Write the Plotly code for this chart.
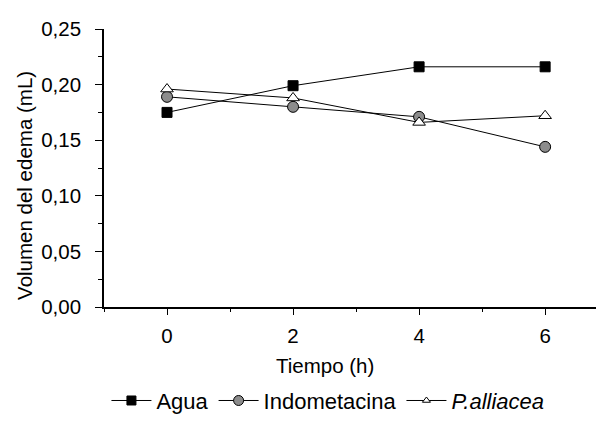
import plotly.graph_objects as go

tiempo = [0, 2, 4, 6]
agua = [0.175, 0.199, 0.216, 0.216]
indometacina = [0.189, 0.180, 0.171, 0.144]
palliacea = [0.196, 0.188, 0.166, 0.172]
series_names = ["Agua", "Indometacina", "<i>P.alliacea</i>"]
x_title = "Tiempo (h)"
y_title = "Volumen del edema (mL)"

FONT = "Liberation Sans, Arial, sans-serif"
FS = 20.5

styles = [
    dict(symbol="square", color="black", size=10, lsize=9),
    dict(symbol="circle", color="#8c8c8c", size=11, lsize=10),
    dict(symbol="triangle-up", color="white", size=11, lsize=7),
]

fig = go.Figure()
for name, ys, st in zip(series_names, [agua, indometacina, palliacea], styles):
    fig.add_trace(go.Scatter(x=tiempo, y=ys, name=name, mode="lines+markers",
                             showlegend=False,
                             line=dict(color="black", width=1),
                             marker=dict(symbol=st["symbol"], size=st["size"], color=st["color"],
                                         line=dict(color="black", width=1))))
# legend entries (smaller symbols as in the reference)
for name, st in zip(series_names, styles):
    fig.add_trace(go.Scatter(x=[None], y=[None], name=name, mode="lines+markers",
                             line=dict(color="black", width=1),
                             marker=dict(symbol=st["symbol"], size=st["lsize"], color=st["color"],
                                         line=dict(color="black", width=1))))

fig.update_layout(
    width=604, height=421,
    margin=dict(l=96, r=7, t=21, b=115),
    paper_bgcolor="white", plot_bgcolor="white",
    separators=", ",
    font=dict(family=FONT, size=FS, color="black"),
    showlegend=True,
    legend=dict(orientation="h", x=0.447, xanchor="center", y=-0.337, yanchor="middle",
                font=dict(size=22), itemwidth=40, tracegroupgap=0),
    annotations=[
        dict(text=x_title, xref="x", yref="paper", x=2.5, y=-0.2105,
             xanchor="center", yanchor="middle", showarrow=False, font=dict(size=FS)),
        dict(text=y_title, xref="paper", yref="paper", x=-0.16, y=0.4386, textangle=-90,
             xanchor="center", yanchor="middle", showarrow=False, font=dict(size=FS)),
    ],
)
fig.update_xaxes(range=[-1, 6.95], tickvals=[0, 2, 4, 6], showgrid=False, zeroline=False,
                 showline=True, linecolor="black", linewidth=1.6,
                 ticks="outside", ticklen=6, tickcolor="black", tickwidth=1.4,
                 tickfont=dict(size=FS), ticklabelstandoff=4,
                 minor=dict(dtick=1, tick0=1, ticks="outside", ticklen=3, tickcolor="black"))
fig.update_yaxes(range=[0, 0.25], dtick=0.05, tickformat=".2f", showgrid=False, zeroline=False,
                 showline=True, linecolor="black", linewidth=1.6,
                 ticks="outside", ticklen=7, tickcolor="black", tickwidth=1.4,
                 tickfont=dict(size=FS), ticklabelstandoff=10,
                 minor=dict(dtick=0.025, ticks="outside", ticklen=4, tickcolor="black"))

fig.write_html("out.html")
